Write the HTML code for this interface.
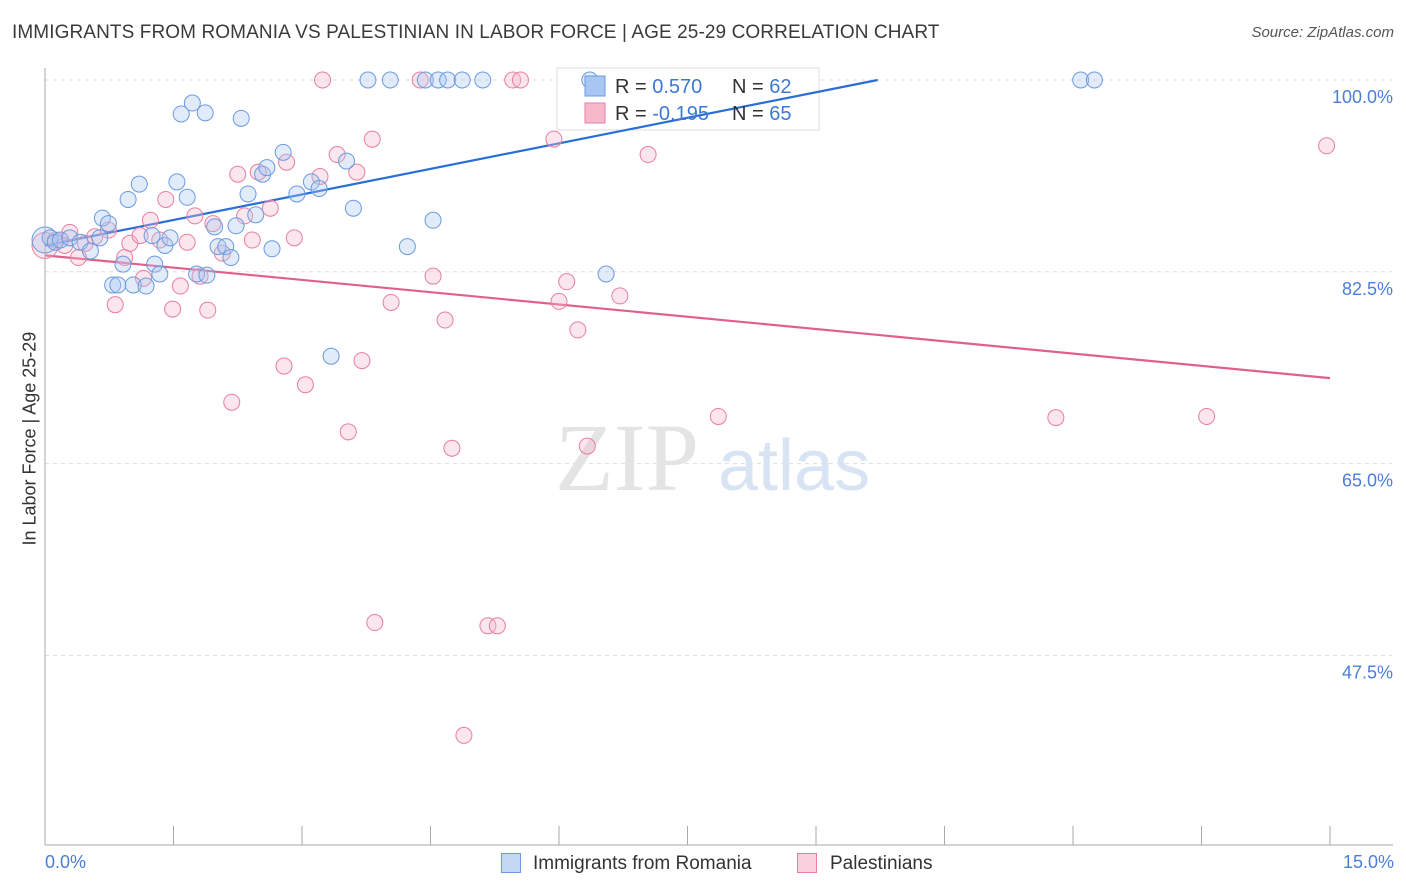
<!DOCTYPE html>
<html><head><meta charset="utf-8">
<style>
body{margin:0;background:#fff;font-family:"Liberation Sans",sans-serif;}
#wrap{position:relative;width:1406px;height:892px;overflow:hidden;}
.t{position:absolute;white-space:nowrap;}
</style></head>
<body>
<div id="wrap">
<div class="t" style="left:12px;top:22px;font-size:19px;letter-spacing:0.1px;color:#3a3a3a;">IMMIGRANTS FROM ROMANIA VS PALESTINIAN IN LABOR FORCE | AGE 25-29 CORRELATION CHART</div>
<div class="t" style="right:12px;top:24px;font-size:15px;color:#555;font-style:italic;">Source: ZipAtlas.com</div>
<svg id="svg" width="1406" height="892" style="position:absolute;left:0;top:0"></svg>
</div>
<script>
const blueX=[0.0,0.06,0.12,0.18,0.29,0.41,0.53,0.64,0.67,0.74,0.79,0.85,0.91,0.97,1.03,1.10,1.18,1.25,1.28,1.34,1.40,1.46,1.54,1.59,1.66,1.72,1.77,1.87,1.89,1.98,2.02,2.11,2.17,2.23,2.29,2.37,2.46,2.54,2.59,2.65,2.78,2.94,3.11,3.20,3.34,3.52,3.60,3.77,4.03,4.23,4.44,4.53,4.59,4.70,4.87,5.11,6.36,6.55,12.09,12.25];
const blueY=[85.4,85.6,85.2,85.4,85.6,85.2,84.4,85.6,87.4,86.9,81.3,81.3,83.2,89.1,81.3,90.5,81.2,85.8,83.2,82.3,84.9,85.6,90.7,96.9,89.3,97.9,82.3,97.0,82.2,86.6,84.8,84.8,83.8,86.7,96.5,89.6,87.7,91.4,92.0,84.6,93.4,89.6,90.7,90.1,74.8,92.6,88.3,100,100,84.8,100,87.2,100,100,100,100,100,82.3,100,100];
const pinkX=[0.0,0.12,0.23,0.29,0.39,0.47,0.58,0.74,0.82,0.93,0.99,1.11,1.15,1.23,1.34,1.41,1.49,1.58,1.66,1.75,1.81,1.90,1.96,2.07,2.18,2.25,2.33,2.42,2.49,2.63,2.79,2.82,2.91,3.04,3.21,3.24,3.41,3.54,3.64,3.70,3.82,3.85,4.04,4.38,4.53,4.67,4.75,5.17,5.28,5.46,5.55,4.89,5.94,6.00,6.09,6.22,6.33,6.71,7.04,7.86,11.80,13.56,14.96];
const pinkY=[84.9,85.4,84.9,86.1,83.8,85.1,85.7,86.3,79.5,83.8,85.1,85.8,81.9,87.2,85.4,89.1,79.1,81.2,85.2,87.6,82.1,79.0,86.9,84.2,70.6,91.4,87.6,85.4,91.6,88.3,73.9,92.5,85.6,72.2,91.2,100,93.2,67.9,91.6,74.4,94.6,50.5,79.7,100,82.1,78.1,66.4,50.2,50.2,100,100,40.2,94.6,79.8,81.6,77.2,66.6,80.3,93.2,69.3,69.2,69.3,94.0];
const blueLine=[[0,84.9],[9.72,100]];
const pinkLine=[[0,84.0],[15,72.8]];
const yTicks=[100,82.5,65,47.5];
const yTickLabels=["100.0%","82.5%","65.0%","47.5%"];
const X0=45,X1=1330,Y100=80,PPY=10.96;
const sx=v=>X0+v*(X1-X0)/15;
const sy=v=>Y100+(100-v)*PPY;
const NS="http://www.w3.org/2000/svg";
const svg=document.getElementById('svg');
function mk(tag,attrs){const e=document.createElementNS(NS,tag);for(const k in attrs)e.setAttribute(k,attrs[k]);svg.appendChild(e);return e;}
yTicks.forEach((t,i)=>{
 const g=mk('line',{x1:X0,x2:1392,y1:sy(t),y2:sy(t),stroke:'#ddd','stroke-dasharray':'4,4'});
 
 
 const tx=mk('text',{x:1393,y:sy(t)+23,'text-anchor':'end','font-size':18,fill:'#4a7fd8','font-family':'Liberation Sans'});
 tx.textContent=yTickLabels[i];
 
 
});
const ax=mk('line',{x1:X0,x2:1393,y1:845,y2:845,stroke:'#aaa'});


const ay=mk('line',{x1:X0,x2:X0,y1:68,y2:845,stroke:'#aaa'});


for(let i=0;i<=10;i++){
 const tk=mk('line',{x1:sx(i*1.5),x2:sx(i*1.5),y1:826,y2:845,stroke:'#aaa'});
 
 
}
const wm=mk('text',{x:555,y:490,'font-size':96,fill:'#e4e4e4','font-family':'Liberation Serif'});wm.textContent='ZIP';


const wm2=mk('text',{x:718,y:490,'font-size':72,fill:'#d8e4f4','font-family':'Liberation Sans'});wm2.textContent='atlas';


const lb=mk('rect',{x:557,y:68,width:262,height:62,fill:'#fff','fill-opacity':0.85,stroke:'#ddd'});


function pts(xs,ys,fill,stroke,name){
 xs.forEach((x,i)=>{
  const c=mk('circle',{cx:sx(x),cy:sy(ys[i]),r:i===0?13:8,fill:fill,stroke:stroke,'stroke-width':1,'fill-opacity':0.35});
  
  
 });
}
const bl=mk('line',{x1:sx(blueLine[0][0]),y1:sy(blueLine[0][1]),x2:sx(blueLine[1][0]),y2:sy(blueLine[1][1]),stroke:'#2a6fd6','stroke-width':2.2});


const pl=mk('line',{x1:sx(pinkLine[0][0]),y1:sy(pinkLine[0][1]),x2:sx(pinkLine[1][0]),y2:sy(pinkLine[1][1]),stroke:'#e0608c','stroke-width':2.2});


pts(pinkX,pinkY,'#f7b8cc','#e87fa0','palestinian-point');
pts(blueX,blueY,'#a9c6f2','#6a9be0','romania-point');
function lrow(y,fill,stroke,r,n){
 const s=mk('rect',{x:585,y:y-10,width:20,height:20,fill:fill,stroke:stroke});
 
 
 const t=mk('text',{x:615,y:y+7,'font-size':20,fill:'#333','font-family':'Liberation Sans'});
 t.innerHTML='R = <tspan fill="#3d78d8">'+r+'</tspan><tspan x="732">N = </tspan><tspan fill="#3d78d8">'+n+'</tspan>';
 
 
}
lrow(86,'#a9c6f2','#6a9be0',' 0.570','62');
lrow(113,'#f7b8cc','#e87fa0','-0.195','65');
</script>
<div class="t" style="left:45px;top:852px;font-size:18px;color:#4a7fd8;">0.0%</div>
<div class="t" style="right:12px;top:852px;font-size:18px;color:#4a7fd8;">15.0%</div>
<div class="t" style="left:-60px;top:445px;font-size:18px;color:#333;transform:rotate(-90deg);width:180px;text-align:center;">In Labor Force | Age 25-29</div>
<div class="t" style="left:501px;top:853px;width:20px;height:20px;background:#c4d8f6;border:1px solid #6a9be0;box-sizing:border-box;"></div>
<div class="t" style="left:533px;top:853px;font-size:19px;color:#333;">Immigrants from Romania</div>
<div class="t" style="left:797px;top:853px;width:20px;height:20px;background:#fbd0de;border:1px solid #e87fa0;box-sizing:border-box;"></div>
<div class="t" style="left:830px;top:853px;font-size:19px;color:#333;">Palestinians</div>
</body></html>
